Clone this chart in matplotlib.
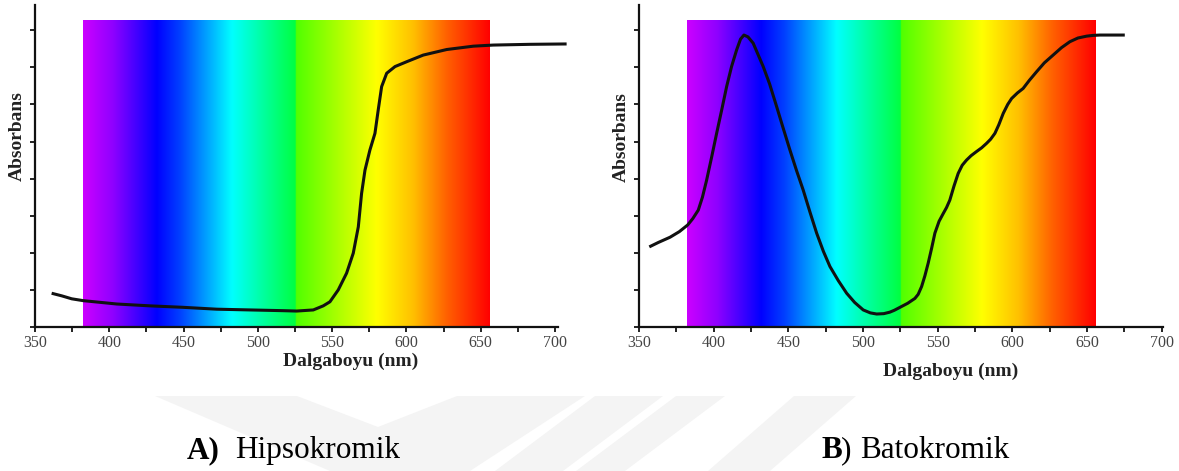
import numpy as np
import matplotlib
matplotlib.use("Agg")
import matplotlib.pyplot as plt
from matplotlib.patches import Polygon
from matplotlib.colors import to_rgb

# ---------------- data ----------------
wl_a = [361.2, 368.0, 374.7, 382.5, 405.0, 427.4, 449.8, 472.3, 494.7, 517.1, 526.1,
        537.3, 544.0, 548.5, 554.1, 559.7, 564.2, 567.6, 569.8, 572.1, 575.4, 578.8,
        581.0, 583.3, 586.7, 592.3, 600.1, 611.3, 627.1, 645.0, 658.4, 683.1, 707.8]
abs_a = [0.91, 0.84, 0.76, 0.71, 0.62, 0.57, 0.53, 0.48, 0.46, 0.44, 0.43,
         0.46, 0.57, 0.68, 1.00, 1.45, 1.99, 2.70, 3.60, 4.23, 4.77, 5.22,
         5.85, 6.48, 6.84, 7.02, 7.15, 7.33, 7.48, 7.57, 7.60, 7.62, 7.63]

wl_b = [356.9, 363.0, 370.8, 377.0, 382.6, 386.0, 389.7, 392.5, 395.3, 398.5, 402.0,
        405.5, 408.7, 412.0, 415.4, 418.0, 420.3, 423.0, 426.5, 433.2, 437.5, 442.2,
        446.5, 451.1, 455.5, 460.0, 464.5, 469.0, 473.5, 477.9, 483.5, 489.1, 494.5,
        500.2, 505.0, 509.2, 514.0, 518.0, 521.0, 524.8, 530.0, 534.8, 537.0, 539.3,
        541.5, 543.7, 546.0, 548.2, 551.0, 553.8, 556.0, 558.2, 561.0, 563.8, 566.5,
        569.4, 572.5, 576.1, 579.5, 582.8, 585.5, 588.4, 591.0, 594.0, 597.0, 599.6,
        603.5, 607.3, 611.5, 616.3, 621.5, 627.4, 633.0, 638.6, 644.0, 649.8, 654.0,
        658.7, 667.0, 675.4]
abs_b = [2.16, 2.28, 2.42, 2.57, 2.75, 2.92, 3.15, 3.50, 3.96, 4.55, 5.22,
         5.87, 6.48, 7.02, 7.47, 7.76, 7.87, 7.82, 7.65, 7.02, 6.55, 5.94,
         5.37, 4.77, 4.22, 3.69, 3.10, 2.53, 2.04, 1.63, 1.25, 0.91, 0.66,
         0.46, 0.38, 0.35, 0.36, 0.40, 0.45, 0.53, 0.64, 0.77, 0.88, 1.09,
         1.38, 1.72, 2.12, 2.53, 2.85, 3.06, 3.22, 3.42, 3.80, 4.14, 4.36,
         4.50, 4.62, 4.73, 4.83, 4.95, 5.06, 5.22, 5.45, 5.76, 6.00, 6.16,
         6.31, 6.43, 6.65, 6.88, 7.12, 7.33, 7.53, 7.69, 7.79, 7.84, 7.86,
         7.87, 7.87, 7.87]

# visible-spectrum band (nm) and its colour stops
spec_range = (382.4, 656.0)
spec_top = 8.25
stop_nm = [382.4, 402.5, 432.0, 447.6, 482.6, 503.4, 525.4, 525.6, 580.0, 604.4, 627.3, 656.0]
stop_col = ['#cc00ff', '#8f00ff', '#0000ff', '#0040ff', '#00ffff', '#00ffa0',
            '#00ff40', '#50ff00', '#ffff00', '#ffc000', '#ff6000', '#ff0000']

x_major = [350, 400, 450, 500, 550, 600, 650, 700]
x_minor = [375, 425, 475, 525, 575, 625, 675]
y_ticks = [0, 1, 2, 3, 4, 5, 6, 7, 8]
xlabel = "Dalgaboyu (nm)"
ylabel = "Absorbans"

SERIF = ["Liberation Serif", "DejaVu Serif"]

W, H = 1179, 471
fig = plt.figure(figsize=(W / 100, H / 100), dpi=100)
fig.patch.set_facecolor("white")


def fx(x):
    return x / W


def fy(y):
    return 1 - y / H


# faint watermark in the lower band
wm_col = "#f4f4f4"
wm_polys = [
    [(155, 396), (297, 396), (378, 427), (457, 396), (585, 396), (470, 471), (330, 471)],
    [(595, 396), (663, 396), (563, 471), (495, 471)],
    [(676, 396), (725, 396), (625, 471), (576, 471)],
    [(794, 396), (856, 396), (770, 471), (708, 471)],
]
for poly in wm_polys:
    fig.add_artist(Polygon([(fx(a), fy(b)) for a, b in poly], closed=True,
                           transform=fig.transFigure, facecolor=wm_col,
                           edgecolor="none", zorder=0))

# gradient image
grid = np.linspace(spec_range[0], spec_range[1], 800)
rgb = np.array([to_rgb(c) for c in stop_col])
img = np.stack([np.interp(grid, stop_nm, rgb[:, k]) for k in range(3)], axis=-1)
img = img[np.newaxis, :, :]


def setup(ax, wl, ab, xlim_hi):
    ax.set_facecolor("none")
    ax.imshow(img, extent=(spec_range[0], spec_range[1], 0, spec_top),
              aspect="auto", origin="lower", interpolation="bilinear", zorder=0)
    ax.plot(wl, ab, color="#111111", lw=2.2, clip_on=False,
            solid_joinstyle="round", solid_capstyle="butt", zorder=3)
    ax.set_xlim(350, xlim_hi)
    ax.set_ylim(0, 8.68)
    for s in ("top", "right"):
        ax.spines[s].set_visible(False)
    for s in ("left", "bottom"):
        ax.spines[s].set_linewidth(1.6)
        ax.spines[s].set_color("#111111")
        ax.spines[s].set_zorder(4)
    ax.set_xticks(x_major)
    ax.set_xticks(x_minor, minor=True)
    ax.set_xticklabels([str(v) for v in x_major])
    ax.set_yticks(y_ticks)
    ax.set_yticklabels([])
    ax.tick_params(axis="both", which="both", direction="out", length=3.5,
                   width=1.3, color="#111111")
    ax.tick_params(axis="x", which="major", labelsize=11.5, labelcolor="#444444", pad=2.0)
    for lab in ax.get_xticklabels():
        lab.set_family(SERIF)


axA = fig.add_axes([fx(35), fy(327), 523 / W, 322 / H])
axB = fig.add_axes([fx(639), fy(327), 524 / W, 322 / H])
setup(axA, wl_a, abs_a, 702)
setup(axB, wl_b, abs_b, 701)

# axis titles
fig.text(fx(351), fy(361), xlabel, ha="center", va="center", fontsize=14,
         fontweight="bold", family=SERIF, color="#222222")
fig.text(fx(951), fy(371), xlabel, ha="center", va="center", fontsize=14,
         fontweight="bold", family=SERIF, color="#222222")
fig.text(fx(17), fy(136), ylabel, ha="center", va="center", rotation=90, fontsize=14,
         fontweight="bold", family=SERIF, color="#222222")
fig.text(fx(621), fy(137), ylabel, ha="center", va="center", rotation=90, fontsize=14,
         fontweight="bold", family=SERIF, color="#222222")

# captions
cap_size = 22.5
fig.text(fx(187), fy(458), "A)", ha="left", va="baseline", fontsize=cap_size,
         fontweight="bold", family=SERIF, color="black")
fig.text(fx(235), fy(458), "Hipsokromik", ha="left", va="baseline", fontsize=cap_size,
         family=SERIF, color="black")
fig.text(fx(822), fy(458), "B", ha="left", va="baseline", fontsize=cap_size,
         fontweight="bold", family=SERIF, color="black")
fig.text(fx(841), fy(458), ")", ha="left", va="baseline", fontsize=cap_size,
         family=SERIF, color="black")
fig.text(fx(860), fy(458), "Batokromik", ha="left", va="baseline", fontsize=cap_size,
         family=SERIF, color="black")

fig.savefig("out.png", dpi=100, facecolor="white")
